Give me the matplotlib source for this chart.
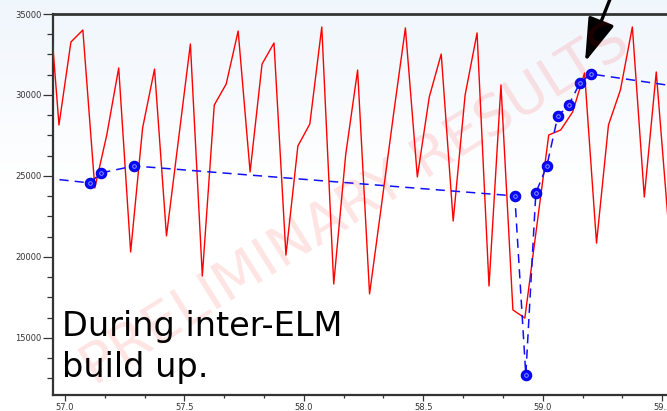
import numpy as np
import matplotlib
matplotlib.use("Agg")
import matplotlib.pyplot as plt
from matplotlib.ticker import AutoMinorLocator

# Red (fast) signal
red_t = [56.925, 56.975, 57.025, 57.075, 57.125, 57.175, 57.225, 57.275, 57.325,
         57.375, 57.425, 57.475, 57.525, 57.575, 57.625, 57.675, 57.725, 57.775,
         57.825, 57.875, 57.925, 57.975, 58.025, 58.075, 58.125, 58.175, 58.225,
         58.275, 58.325, 58.375, 58.425, 58.475, 58.525, 58.575, 58.625, 58.675,
         58.725, 58.775, 58.825, 58.875, 58.925, 58.975, 59.025, 59.075, 59.125,
         59.175, 59.225, 59.275, 59.325, 59.375, 59.425, 59.475, 59.525]
red_v = [37650, 28150, 33270, 34010, 24260, 27530, 31670, 20310, 27960,
         31600, 21300, 27220, 33150, 18830, 29380, 30680, 33950, 25250,
         31910, 33210, 20120, 26850, 28210, 34200, 18330, 26300, 31540,
         17720, 23210, 28770, 34140, 24940, 29880, 32530, 22220, 30000,
         33830, 18210, 30620, 16730, 16230, 21910, 27530, 27840, 28950,
         31360, 20860, 28150, 30310, 34200, 23700, 31420, 22160]

# Blue (slow) signal
blue_t = [56.85, 57.105, 57.151, 57.289, 58.883, 58.929, 58.971, 59.017,
          59.063, 59.109, 59.155, 59.201, 59.657]
blue_v = [24980, 24570, 25190, 25620, 23770, 12720, 23960, 25620,
          28700, 29380, 30740, 31300, 30320]
blue_marked = [False, True, True, True, True, True, True, True,
               True, True, True, True, False]

x_ticks = [57.0, 57.5, 58.0, 58.5, 59.0, 59.5]
x_ticklabels = ["57.0", "57.5", "58.0", "58.5", "59.0", "59.5"]
y_ticks = [15000, 20000, 25000, 30000, 35000]
y_ticklabels = ["15000", "20000", "25000", "30000", "35000"]

W, H = 667, 411
fig = plt.figure(figsize=(W / 100, H / 100), dpi=100)

# soft background gradient
bg = fig.add_axes([0, 0, 1, 1], zorder=-10)
grad = np.linspace(0, 1, 256)[:, None]
top = np.array([0.94, 0.965, 0.99])
white = np.array([1.0, 1.0, 1.0])
w = np.clip(grad / 0.45, 0, 1)
img = (top[None, None, :] * (1 - w[..., None]) + white[None, None, :] * w[..., None])
img = np.repeat(img, 4, axis=1)
bg.imshow(img, aspect="auto", extent=[0, 1, 0, 1], origin="upper")
bg.set_axis_off()

left_px, right_px, top_px, bot_px = 53, 667, 14, 395
ax = fig.add_axes([left_px / W, 1 - bot_px / H, (right_px - left_px) / W, (bot_px - top_px) / H])
ax.set_facecolor("none")

ax.plot(red_t, red_v, color="#ff0000", lw=1.0, zorder=3)
ax.plot(blue_t, blue_v, color="#1010ff", lw=1.1, ls=(0, (6, 4)), zorder=4)
mt = [t for t, m in zip(blue_t, blue_marked) if m]
mv = [v for v, m in zip(blue_v, blue_marked) if m]
ax.plot(mt, mv, ls="none", marker="o", ms=7.5, mfc="#0a0aff", mec="#0000dd", mew=0.8, zorder=5)
ax.plot(mt, mv, ls="none", marker="o", ms=2.6, mfc="none", mec="#9aa8ff", mew=0.6, zorder=6)

ax.set_xlim(56.95, 59.52)
ax.set_ylim(11480, 35000)
ax.set_xticks(x_ticks)
ax.set_xticklabels(x_ticklabels)
ax.set_yticks(y_ticks)
ax.set_yticklabels(y_ticklabels)
ax.xaxis.set_minor_locator(AutoMinorLocator(3))
ax.yaxis.set_minor_locator(AutoMinorLocator(4))
ax.tick_params(axis="both", which="major", direction="out", labelsize=6, colors="#333333",
               width=0.9, pad=1.5)
ax.tick_params(axis="y", which="major", length=7)
ax.tick_params(axis="y", which="minor", length=4, width=0.9, colors="#333333")
ax.tick_params(axis="x", which="major", length=4)
ax.tick_params(axis="x", which="minor", length=2.5, width=0.9, colors="#333333")
for s in ["left", "bottom"]:
    ax.spines[s].set_linewidth(1.6)
    ax.spines[s].set_color("#333333")
ax.spines["top"].set_linewidth(2.0)
ax.spines["top"].set_color("#333333")
ax.spines["right"].set_visible(False)

# watermark
fig.text(356 / W, 1 - 205 / H, "PRELIMINARY RESULTS", fontsize=40.5, color="#ff0000",
         alpha=0.11, rotation=32, ha="center", va="center", rotation_mode="anchor", zorder=10)

# annotation text (baseline of last line)
fig.text(62 / W, 1 - 377 / H, "During inter-ELM\nbuild up.", fontsize=24.2, color="black",
         ha="left", va="baseline", linespacing=1.3, zorder=11)

# arrow
ax.annotate("", xy=(585, H - 62), xycoords="figure pixels",
            xytext=(624, H + 36), textcoords="figure pixels",
            arrowprops=dict(arrowstyle="-|>,head_length=1.35,head_width=0.42",
                            mutation_scale=20, lw=2.4, color="black",
                            shrinkA=0, shrinkB=0),
            annotation_clip=False, zorder=12)

fig.savefig("out.png", dpi=100)
